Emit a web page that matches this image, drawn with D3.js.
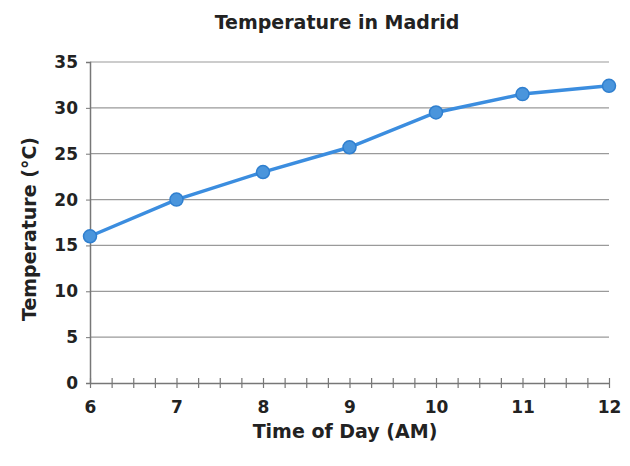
<!DOCTYPE html>
<html><head><meta charset="utf-8">
<script src="https://cdn.jsdelivr.net/npm/d3@7"></script>
<style>body{margin:0;background:#fff}text{font-family:"DejaVu Sans",sans-serif;font-weight:bold;fill:#222}</style>
</head><body><svg id="c" width="630" height="466"></svg>
<script>
const hours = [6, 7, 8, 9, 10, 11, 12];
const temps = [16, 20, 23, 25.7, 29.5, 31.5, 32.4];
const yTicks = [0, 5, 10, 15, 20, 25, 30, 35];
const title = "Temperature in Madrid";
const xTitle = "Time of Day (AM)";
const yTitle = "Temperature (°C)";

const svg = d3.select("#c");
const L = 90, R = 609, T = 62, B = 383;
const x = d3.scaleLinear().domain([6, 12]).range([L, R]);
const y = d3.scaleLinear().domain([0, 35]).range([B, T]);

// gridlines
svg.append("g").selectAll("line").data(yTicks.filter(d => d > 0)).join("line")
  .attr("x1", L).attr("x2", R).attr("y1", d => y(d)).attr("y2", d => y(d))
  .attr("stroke", "#9a9a9a").attr("stroke-width", 1.2);

// y axis
const ya = svg.append("g").attr("transform", `translate(${L},0)`)
  .call(d3.axisLeft(y).tickValues(yTicks).tickSize(4).tickPadding(8));
ya.select(".domain").attr("stroke", "#777").attr("stroke-width", 1.5);
ya.selectAll(".tick line").attr("stroke", "#777");
ya.selectAll("text").attr("font-size", 17).attr("font-family", "DejaVu Sans").attr("font-weight", "bold").attr("fill", "#222");

// x axis minor ticks
const minor = d3.range(6, 12.001, 0.25);
const xa = svg.append("g").attr("transform", `translate(0,${B})`)
  .call(d3.axisBottom(x).tickValues(minor).tickSize(0).tickFormat(""));
xa.select(".domain").attr("stroke", "#777").attr("stroke-width", 1.5);
xa.selectAll(".tick line").attr("y1", -5).attr("y2", 5).attr("stroke", "#777").attr("stroke-width", 1.2);
const xl = svg.append("g").attr("transform", `translate(0,${B})`)
  .call(d3.axisBottom(x).tickValues(hours).tickSize(0).tickPadding(18).tickFormat(d3.format("d")));
xl.select(".domain").remove();
xl.selectAll("text").attr("font-size", 17).attr("font-family", "DejaVu Sans").attr("font-weight", "bold").attr("fill", "#222");

// line
const data = hours.map((h, i) => [h, temps[i]]);
svg.append("path").datum(data)
  .attr("d", d3.line().x(d => x(d[0])).y(d => y(d[1])))
  .attr("fill", "none").attr("stroke", "#3b8ddf").attr("stroke-width", 3.5);
svg.append("g").selectAll("circle").data(data).join("circle")
  .attr("cx", d => x(d[0])).attr("cy", d => y(d[1])).attr("r", 6.5)
  .attr("fill", "#4a95dc").attr("stroke", "#2f7fcf").attr("stroke-width", 1.5);

// titles
svg.append("text").attr("x", 337).attr("y", 29).attr("text-anchor", "middle")
  .attr("font-size", 19).text(title);
svg.append("text").attr("x", 345).attr("y", 438).attr("text-anchor", "middle")
  .attr("font-size", 19).text(xTitle);
svg.append("text").attr("transform", "translate(36,229) rotate(-90)").attr("text-anchor", "middle")
  .attr("font-size", 19).text(yTitle);
</script></body></html>
